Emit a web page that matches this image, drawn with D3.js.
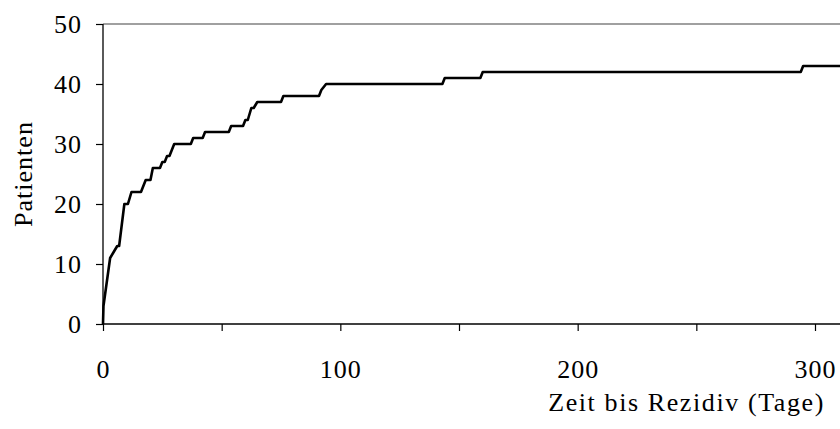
<!DOCTYPE html>
<html><head><meta charset="utf-8">
<script src="https://cdn.jsdelivr.net/npm/d3@7"></script>
<style>html,body{margin:0;padding:0;background:#fff;overflow:hidden}svg{display:block}</style>
</head><body>
<svg id="c" width="840" height="429"></svg>
<script>
const days   = [0, 0.2, 3, 4.5, 6, 6.8, 9, 10.5, 12, 16, 18, 20, 21, 24, 25, 26, 27, 28, 30, 37, 38, 42, 43, 53, 54, 59, 60, 61, 62.5, 63.5, 65, 75, 76, 91, 92, 94, 143, 144, 159, 160, 294, 295, 330];
const counts = [0, 3, 11, 12, 13, 13, 20, 20, 22, 22, 24, 24, 26, 26, 27, 27, 28, 28, 30, 30, 31, 31, 32, 32, 33, 33, 34, 34, 36, 36, 37, 37, 38, 38, 39, 40, 40, 41, 41, 42, 42, 43, 43];
const xTicks = [0, 50, 100, 150, 200, 250, 300, 350];
const xTickLabels = [0, 100, 200, 300];
const yTicks = [0, 10, 20, 30, 40, 50];
const xTitle = "Zeit bis Rezidiv (Tage)";
const yTitle = "Patienten";

const svg = d3.select("#c");
const font = "'Liberation Serif', 'Times New Roman', serif";
const fs = 26;
const x = d3.scaleLinear().domain([0, 300]).range([103, 815]);
const y = d3.scaleLinear().domain([0, 50]).range([324, 24]);

// top border
svg.append("line").attr("x1", x(0)).attr("x2", 900).attr("y1", y(50)).attr("y2", y(50))
  .attr("stroke", "#808080").attr("stroke-width", 1.3);

// y axis
const ya = svg.append("g").attr("transform", `translate(${x(0)},0)`)
  .call(d3.axisLeft(y).tickValues(yTicks).tickSize(7).tickPadding(14).tickFormat(d3.format("d")));
ya.select(".domain").attr("stroke", "#000").attr("stroke-width", 1.3).attr("d", `M0,${y(50)}V${y(0)}`);
ya.selectAll(".tick line").attr("stroke", "#000").attr("stroke-width", 1.2);
ya.selectAll("text").attr("font-family", font).attr("font-size", fs).attr("letter-spacing", 1).attr("fill", "#000");

// x axis
const xa = svg.append("g").attr("transform", `translate(0,${y(0)})`)
  .call(d3.axisBottom(x).tickValues(xTicks).tickSize(7)
    .tickFormat(d => xTickLabels.includes(d) ? d : ""));
xa.select(".domain").attr("stroke", "#000").attr("stroke-width", 1.3).attr("d", `M${x(0)},0H900`);
xa.selectAll(".tick line").attr("stroke", "#000").attr("stroke-width", 1.2);
xa.selectAll("text").attr("font-family", font).attr("font-size", fs).attr("letter-spacing", 1)
  .attr("fill", "#000").attr("y", 54).attr("dy", null);

// line
const pts = days.map((d, i) => [d, counts[i]]);
svg.append("path").datum(pts)
  .attr("fill", "none").attr("stroke", "#000").attr("stroke-width", 2.6).attr("stroke-linejoin", "round")
  .attr("d", d3.line().x(d => x(d[0])).y(d => y(d[1])));

// titles
svg.append("text").attr("x", 825).attr("y", 411).attr("text-anchor", "end")
  .attr("font-family", font).attr("font-size", fs).attr("letter-spacing", 1.6).attr("fill", "#000").text(xTitle);
svg.append("text").attr("transform", "translate(32,174) rotate(-90)").attr("text-anchor", "middle")
  .attr("font-family", font).attr("font-size", fs).attr("letter-spacing", 1).attr("fill", "#000").text(yTitle);
</script>
</body></html>
